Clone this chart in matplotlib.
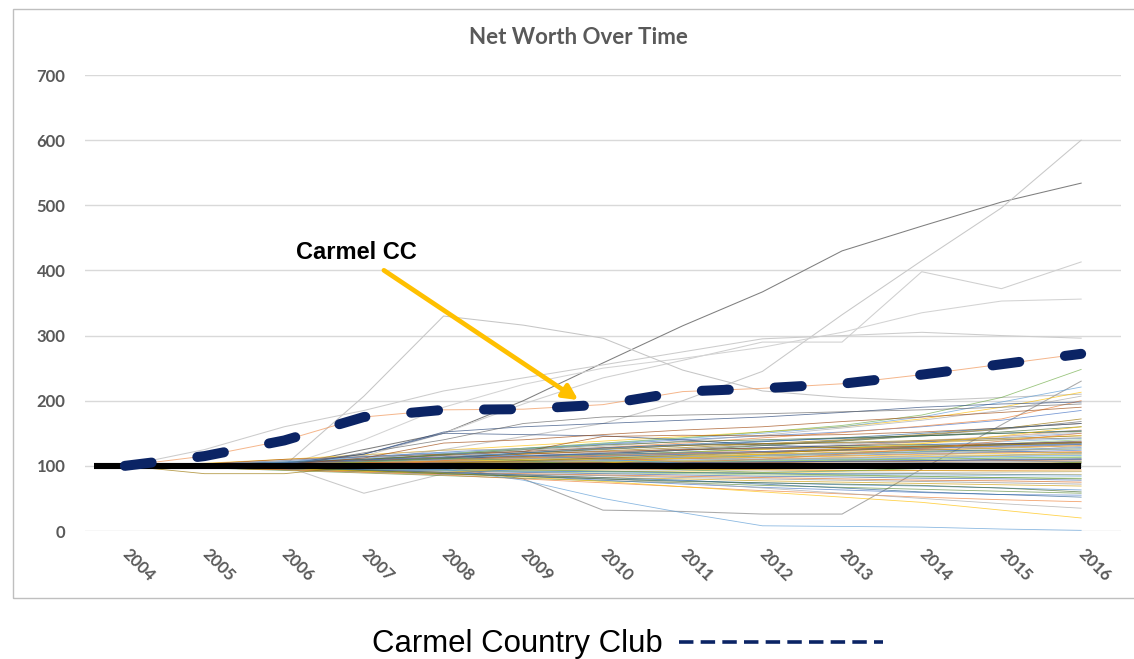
import matplotlib.pyplot as plt
from matplotlib.patches import Rectangle
from matplotlib.lines import Line2D

years = list(range(2004, 2017))

# Carmel Country Club (index, 2004 = 100)
carmel = [100, 115, 139, 175, 186, 187, 194, 214, 219, 226, 240, 256, 272]

# a few clubs that stand out above the pack
gray_lines = [
    [100, 100, 100, 125, 150, 200, 258, 315, 367, 430, 468, 505, 534],
    [100, 100, 100, 108, 125, 145, 165, 200, 245, 332, 415, 496, 600],
    [100, 100, 100, 115, 150, 195, 235, 262, 290, 290, 398, 372, 413],
    [100, 100, 100, 140, 190, 225, 250, 265, 282, 305, 335, 353, 356],
    [100, 100, 100, 207, 330, 316, 296, 247, 215, 205, 200, 205, 210],
    [100, 125, 160, 185, 215, 235, 255, 275, 295, 300, 305, 300, 296],
    [100, 100, 100, 100, 98, 80, 32, 30, 26, 26, 95, 163, 230],
    [100, 100, 100, 58, 88, 95, 98, 100, 104, 108, 112, 116, 120],
]
gray_colors = ["#7f7f7f", "#c8c8c8", "#cfcfcf", "#d3d3d3", "#c6c6c6", "#cccccc", "#a9a9a9", "#c9c9c9"]

# all the other clubs
bundle = [
    [100, 103, 108, 114, 121, 127, 133, 140, 146, 152, 160, 170, 185],
    [100, 101, 104, 109, 116, 122, 128, 135, 143, 151, 161, 172, 200],
    [100, 102, 105, 111, 117, 124, 130, 138, 147, 158, 170, 185, 207],
    [100, 104, 110, 117, 124, 131, 138, 145, 152, 160, 172, 190, 213],
    [100, 102, 106, 112, 119, 126, 134, 142, 150, 160, 175, 198, 221],
    [100, 101, 103, 108, 118, 127, 135, 143, 152, 162, 178, 205, 248],
    [100, 101, 104, 118, 150, 148, 146, 140, 132, 128, 125, 122, 120],
    [100, 103, 110, 114, 118, 122, 145, 147, 146, 148, 152, 158, 165],
    [100, 100, 102, 106, 111, 115, 120, 126, 132, 139, 147, 156, 168],
    [100, 101, 103, 107, 112, 118, 123, 128, 134, 140, 148, 157, 172],
    [100, 102, 104, 109, 114, 120, 125, 131, 137, 143, 150, 158, 165],
    [100, 99, 101, 104, 109, 114, 118, 124, 131, 138, 146, 152, 160],
    [100, 101, 102, 105, 109, 113, 117, 121, 126, 131, 137, 143, 150],
    [100, 100, 101, 104, 108, 112, 116, 120, 125, 131, 138, 145, 155],
    [100, 102, 105, 108, 112, 116, 120, 124, 128, 133, 139, 145, 152],
    [100, 101, 103, 106, 110, 113, 117, 121, 125, 130, 135, 140, 147],
    [100, 100, 102, 104, 107, 111, 114, 118, 122, 127, 132, 137, 142],
    [100, 99, 100, 103, 106, 110, 114, 117, 121, 125, 129, 134, 140],
    [100, 101, 102, 105, 108, 111, 115, 118, 121, 125, 129, 133, 138],
    [100, 102, 103, 106, 110, 113, 116, 119, 122, 126, 130, 134, 137],
    [100, 100, 101, 103, 106, 108, 111, 114, 117, 120, 124, 128, 133],
    [100, 101, 102, 104, 107, 110, 112, 115, 118, 121, 124, 127, 131],
    [100, 99, 100, 102, 105, 107, 110, 113, 116, 119, 122, 125, 128],
    [100, 101, 101, 103, 105, 107, 110, 112, 115, 118, 121, 124, 126],
    [100, 100, 101, 102, 104, 106, 108, 111, 113, 116, 119, 121, 124],
    [100, 101, 102, 104, 105, 107, 109, 111, 113, 115, 118, 120, 122],
    [100, 100, 100, 101, 103, 105, 107, 109, 111, 113, 115, 117, 119],
    [100, 101, 101, 102, 104, 105, 107, 108, 110, 112, 114, 116, 118],
    [100, 100, 101, 102, 103, 104, 106, 107, 109, 110, 112, 114, 116],
    [100, 99, 100, 101, 102, 103, 105, 106, 107, 109, 110, 112, 113],
    [100, 100, 100, 101, 102, 103, 104, 105, 106, 107, 108, 110, 111],
    [100, 101, 101, 102, 102, 103, 104, 104, 105, 106, 107, 108, 109],
    [100, 100, 100, 101, 101, 102, 102, 103, 103, 104, 105, 106, 107],
    [100, 99, 99, 100, 100, 101, 101, 102, 102, 103, 103, 104, 105],
    [100, 100, 99, 99, 99, 100, 100, 100, 101, 101, 102, 102, 103],
    [100, 99, 98, 98, 98, 98, 98, 99, 99, 99, 100, 100, 101],
    [100, 99, 99, 98, 97, 97, 97, 96, 96, 96, 96, 97, 97],
    [100, 98, 97, 97, 96, 95, 95, 94, 94, 93, 93, 93, 94],
    [100, 99, 98, 97, 96, 95, 94, 93, 92, 91, 90, 90, 91],
    [100, 99, 97, 96, 95, 93, 92, 91, 90, 89, 88, 87, 87],
    [100, 98, 97, 95, 94, 92, 91, 89, 88, 87, 86, 85, 84],
    [100, 99, 97, 95, 93, 91, 89, 88, 86, 85, 83, 82, 81],
    [100, 98, 96, 94, 92, 90, 88, 86, 84, 83, 81, 80, 78],
    [100, 97, 95, 93, 90, 88, 86, 84, 82, 80, 78, 77, 75],
    [100, 98, 95, 92, 90, 87, 85, 82, 80, 78, 76, 74, 72],
    [100, 97, 94, 91, 88, 85, 82, 80, 77, 75, 73, 71, 69],
    [100, 98, 95, 91, 87, 84, 80, 77, 74, 71, 69, 66, 63],
    [100, 97, 93, 89, 85, 81, 77, 74, 70, 67, 64, 61, 58],
    [100, 98, 96, 93, 89, 84, 78, 72, 67, 63, 59, 56, 55],
    [100, 97, 94, 90, 86, 80, 74, 68, 62, 57, 52, 48, 45],
    [100, 99, 96, 93, 90, 86, 80, 74, 66, 58, 50, 42, 35],
    [100, 98, 96, 92, 88, 83, 76, 68, 60, 52, 44, 32, 20],
    [100, 100, 100, 100, 95, 78, 50, 28, 8, 7, 6, 3, 1],
    [100, 101, 103, 106, 109, 113, 117, 121, 126, 129, 131, 132, 134],
    [100, 102, 104, 107, 111, 115, 119, 124, 128, 131, 133, 134, 136],
    [100, 101, 104, 108, 113, 118, 122, 125, 127, 128, 130, 132, 135],
    [100, 103, 106, 110, 116, 122, 128, 132, 134, 135, 137, 140, 143],
    [100, 101, 103, 107, 112, 119, 126, 131, 134, 136, 139, 142, 146],
    [100, 100, 102, 106, 112, 120, 127, 133, 138, 142, 146, 150, 154],
    [100, 102, 105, 110, 117, 125, 132, 137, 140, 143, 146, 150, 153],
    [100, 101, 104, 107, 110, 113, 116, 118, 121, 124, 127, 131, 134],
    [100, 99, 101, 104, 108, 112, 116, 119, 121, 123, 126, 129, 131],
    [100, 101, 103, 106, 109, 111, 113, 114, 116, 118, 120, 123, 126],
    [100, 100, 102, 105, 107, 109, 110, 112, 113, 115, 117, 119, 121],
    [100, 101, 102, 104, 106, 107, 108, 109, 110, 111, 113, 115, 117],
    [100, 99, 100, 102, 104, 105, 106, 107, 108, 109, 110, 112, 114],
    [100, 100, 101, 103, 104, 104, 105, 105, 106, 107, 108, 109, 110],
    [100, 101, 103, 105, 106, 106, 105, 104, 104, 103, 103, 103, 104],
    [100, 100, 101, 102, 102, 101, 100, 99, 98, 98, 97, 97, 98],
    [100, 99, 99, 99, 98, 97, 96, 95, 94, 93, 93, 92, 92],
    [100, 100, 98, 96, 94, 92, 91, 90, 89, 88, 88, 87, 86],
    [100, 101, 100, 98, 96, 94, 92, 90, 88, 86, 84, 82, 80],
    [100, 102, 105, 109, 113, 116, 118, 120, 122, 124, 127, 130, 133],
    [100, 98, 96, 100, 108, 115, 112, 106, 110, 118, 126, 138, 150],
    [100, 102, 108, 116, 124, 126, 120, 114, 110, 112, 116, 122, 130],
    [100, 100, 97, 92, 90, 96, 104, 112, 118, 126, 134, 146, 160],
    [100, 101, 106, 114, 120, 116, 110, 104, 98, 96, 98, 100, 104],
    [100, 99, 101, 106, 112, 108, 100, 94, 90, 92, 96, 100, 106],
    [100, 100, 101, 118, 152, 160, 165, 170, 175, 182, 190, 195, 198],
    [100, 100, 102, 112, 135, 140, 148, 155, 160, 168, 175, 182, 190],
    [100, 100, 100, 120, 140, 165, 175, 178, 180, 183, 186, 190, 195],
    [100, 88, 88, 100, 104, 108, 112, 116, 120, 124, 128, 132, 136],
    [100, 98, 97, 94, 90, 86, 82, 78, 72, 66, 60, 56, 52],
    [100, 99, 97, 93, 88, 84, 80, 76, 74, 72, 70, 66, 60],
]

palette = ["#4472C4", "#ED7D31", "#A5A5A5", "#FFC000", "#5B9BD5", "#70AD47",
           "#264478", "#9E480E", "#636363", "#997300", "#255E91", "#43682B",
           "#698ED0", "#F1975A", "#B7B7B7", "#FFCD33", "#7CAFDD", "#8CC168",
           "#335AA1", "#D26012", "#848484", "#CC9A00", "#3C7DC4", "#5A8A39"]

navy = "#0b2465"
label_gray = "#595959"

fig = plt.figure(figsize=(11.34, 6.59), dpi=100)
ax = fig.add_axes([85 / 1134, 1 - 531 / 659, 1036 / 1134, 456 / 659])

for vals, c in zip(gray_lines, gray_colors):
    ax.plot(years, vals, color=c, lw=0.75, zorder=2)

for i, vals in enumerate(bundle):
    ax.plot(years, vals, color=palette[i % len(palette)], lw=0.6, alpha=0.7, zorder=3)

# thin copy of Carmel under the thick dashed one
ax.plot(years, carmel, color="#F1975A", lw=0.7, alpha=0.7, zorder=3)

# 100 reference line
ax.hlines(100, 2003.61, 2016, color="black", lw=4.4, zorder=5)

ax.plot(years, carmel, color=navy, lw=7.2, dashes=(2.7, 4.6),
        dash_capstyle="round", solid_capstyle="round", zorder=6)

ax.set_xlim(2003.5, 2016.5)
ax.set_ylim(0, 700)
ax.set_yticks(range(0, 701, 100))
ax.set_xticks(years)
ax.grid(axis="y", color="#d9d9d9", lw=1)
ax.set_axisbelow(True)
for s in ax.spines.values():
    s.set_visible(False)
ax.tick_params(length=0)
ax.tick_params(axis="y", pad=14, labelsize=12, labelcolor=label_gray)
ax.tick_params(axis="x", pad=15, labelsize=12, labelcolor=label_gray)
for lab in ax.get_yticklabels():
    lab.set_fontfamily("Lato")
    lab.set_fontweight("bold")
for lab in ax.get_xticklabels():
    lab.set_fontfamily("Lato")
    lab.set_fontweight("bold")
    lab.set_rotation(-45)
    lab.set_ha("left")
    lab.set_va("center")
    lab.set_rotation_mode("anchor")

# annotation
ax.annotate("Carmel CC", xy=(2009.69, 201), xytext=(2006.91, 428),
            fontsize=17, fontweight="bold", family="Liberation Sans",
            ha="center", va="center", zorder=7,
            arrowprops=dict(arrowstyle="-|>", color="#FFC000", lw=3.4,
                            mutation_scale=22, shrinkA=5, shrinkB=0))

fig.text(578 / 1134, 1 - 38 / 659, "Net Worth Over Time", ha="center", va="center",
         fontsize=16, fontweight="bold", color=label_gray, family="Lato")

# chart border
fig.patches.append(Rectangle((13 / 1134, 1 - 598 / 659), 1.2, 589 / 659,
                             transform=fig.transFigure, fill=False,
                             ec="#bfbfbf", lw=1))

# legend text at the bottom
fig.text(372 / 1134, 1 - 652 / 659, "Carmel Country Club", ha="left", va="baseline",
         fontsize=22.4, family="Liberation Sans", color="black")
fig.lines.append(Line2D([679 / 1134, 883 / 1134], [1 - 642 / 659] * 2,
                        transform=fig.transFigure, color=navy, lw=2.6,
                        ls=(0, (4, 2))))

fig.savefig("out.png", dpi=100)
